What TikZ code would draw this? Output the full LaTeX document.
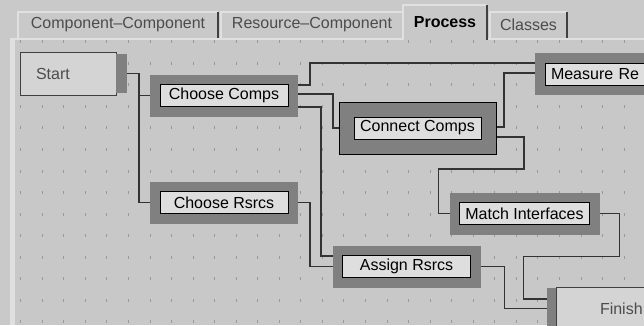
\documentclass[tikz,border=0pt]{standalone}
\usepackage{fontspec}
\setmainfont{Liberation Sans}
\usepackage{tikz}
\pgfdeclarelayer{background}
\pgfdeclarelayer{foreground}
\pgfsetlayers{background,main,foreground}
\definecolor{stripgray}{gray}{0.79}
\definecolor{canvasgray}{gray}{0.785}
\definecolor{litegray}{gray}{0.88}
\definecolor{dotgray}{gray}{0.6}
\definecolor{framegray}{gray}{0.5}
\definecolor{boxfill}{gray}{0.87}
\definecolor{termfill}{gray}{0.83}
\definecolor{wiregray}{gray}{0.2}
\definecolor{edgegray}{gray}{0.25}
\definecolor{textgray}{gray}{0.3}
\newcommand\boxfont{\fontsize{16}{19}\selectfont}
\tikzset{
  proc/.style={draw=black, line width=1pt, fill=boxfill, minimum width=128pt, minimum height=22pt,
    inner sep=0pt, outer sep=10pt, font=\boxfont, preaction={draw=framegray, line width=20pt}},
  termbox/.style={draw=edgegray, line width=1pt, fill=termfill, minimum height=43pt, inner ysep=0pt,
    outer sep=0pt, align=left, font=\boxfont, text=textgray},
  tab/.style={minimum height=26pt, inner sep=0pt, fill=stripgray, font=\boxfont, text=textgray},
  wire/.style={draw=wiregray, line width=1.4pt}
}
\begin{document}
\begin{tikzpicture}[x=1pt,y=1pt]
\useasboundingbox (0,0) rectangle (644,-325);
\begin{pgfonlayer}{background}
\fill[stripgray] (0,0) rectangle (644,-325);
\fill[canvasgray] (15,-40) rectangle (644,-325);
\fill[litegray] (10,-38) rectangle (15,-325);
\fill[litegray] (10,-38) rectangle (644,-40);
\foreach \i in {0,...,29}
  \foreach \j in {0,...,13}
    \fill[dotgray] ({20.2+21.55*\i},{-40.2-21.55*\j}) rectangle ++(1,-3);
\end{pgfonlayer}
\node[tab, minimum width=200pt] (tcc) at (118,-25) {Component\textendash Component};
\node[tab, minimum width=182pt] (trc) at (312,-25) {Resource\textendash Component};
\node[tab, minimum width=77pt] (tcl) at (528.5,-25) {Classes};
\node[tab, minimum width=84pt, minimum height=35pt, fill=canvasgray, text=black, font=\boxfont\bfseries] (tpr) at (445,-22.5) {Process};
\foreach \t in {tcc,trc,tpr,tcl} {
  \draw[litegray, line width=1.5pt] (\t.south west) |- (\t.north east);
  \draw[edgegray, line width=1.5pt] (\t.north east) -- (\t.south east);
}
\begin{pgfonlayer}{foreground}
\node[termbox, text width=64pt, inner xsep=16pt] (start) at (68,-73.5) {Start};
\fill[framegray] ([yshift=-2pt]start.north east) rectangle ([xshift=11pt,yshift=2pt]start.south east);
\node[termbox, text width=60pt, inner xsep=44pt] (finish) at (630,-308.5) {Finish};
\fill[framegray] ([xshift=-9pt,yshift=-1pt]finish.north west) rectangle (finish.south west);
\node[proc] (ccomps) at (224,-95.5) {Choose Comps};
\node[proc] (crsrcs) at (224,-202.5) {Choose Rsrcs};
\node[proc, minimum width=127pt, outer sep=15pt, preaction={draw=black, line width=31pt},
  preaction={draw=framegray, line width=29pt}] (connect) at (417.5,-128) {Connect Comps};
\node[proc, text width=116pt, inner xsep=6pt, align=left] (measure) at (609,-74) {Measure Re};
\node[proc, minimum width=130pt] (match) at (524.5,-213.5) {Match Interfaces};
\node[proc] (assign) at (406.5,-266.5) {Assign Rsrcs};
\end{pgfonlayer}
\draw[wire] ([xshift=11pt]start.east) -- ++(12,0) |- (ccomps.west);
\draw[wire] ([xshift=11pt]start.east) -- ++(12,0) |- (crsrcs.west);
\draw[wire] ([yshift=10.5pt]ccomps.east) -- ++(12,0) |- ([yshift=11pt]measure.west);
\draw[wire] ([yshift=1.5pt]ccomps.east) -- ++(35,0) |- (connect.west);
\draw[wire] ([yshift=-11.5pt]ccomps.east) -- ++(23,0) |- ([yshift=10.5pt]assign.west);
\draw[wire] (crsrcs.east) -- ++(12,0) |- (assign.west);
\draw[wire] ([yshift=1pt]connect.east) -- ++(8,0) |- ([yshift=1pt]measure.west);
\draw[wire] ([yshift=-9pt]connect.east) -| ++(28,-32) -| ([xshift=-11pt]match.west) -- (match.west);
\draw[wire] (match.east) -- ++(20,0) |- ++(-96,-43) |- ([xshift=-9pt,yshift=9.5pt]finish.west);
\draw[wire] (assign.east) -- ++(24,0) |- ([xshift=-9pt]finish.west);
\end{tikzpicture}
\end{document}
